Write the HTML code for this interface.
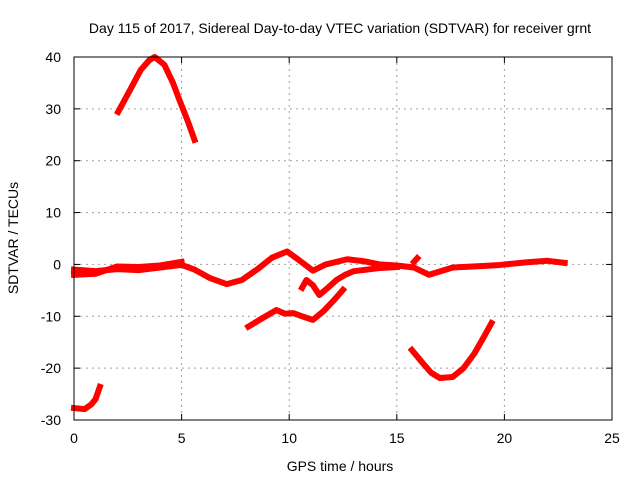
<!DOCTYPE html>
<html><head><meta charset="utf-8"><style>
body{margin:0;background:#fff}
svg{display:block;font-family:"Liberation Sans",sans-serif}
</style></head><body>
<svg id="chart" width="640" height="480">
<text x="340" y="33" text-anchor="middle" font-size="14">Day 115 of 2017, Sidereal Day-to-day VTEC variation (SDTVAR) for receiver grnt</text>
<text x="340" y="471" text-anchor="middle" font-size="14">GPS time / hours</text>
<text x="18" y="238" text-anchor="middle" font-size="14" transform="rotate(-90 18 238)">SDTVAR / TECUs</text>
<g id="grid"></g><g id="series"></g>
<rect x="74" y="57" width="538" height="363" fill="none" stroke="#000" stroke-width="1"/>
<g id="ticks"></g>
</svg>
<script>
const xTicks=[0,5,10,15,20,25];
const yTicks=[-30,-20,-10,0,10,20,30,40];
const arcTop=[[2.05,29.4],[2.6,33.6],[3.1,37.5],[3.5,39.4],[3.75,40],[4.2,38.5],[4.6,35],[4.9,31.7],[5.3,27.5],[5.6,24]];
const arcBottom=[[0,-27.7],[0.5,-27.9],[0.8,-27],[1,-26],[1.2,-23.6]];
const mainLine=[[0,-1],[1,-1.3],[2,-0.9],[3,-1.1],[4,-0.6],[5,-0.1],[5.6,-1],[6.3,-2.6],[7.1,-3.8],[7.8,-3],[8.5,-1],[9.2,1.3],[9.9,2.5],[10.4,1],[11.1,-1.2],[11.7,0],[12.7,1],[13.5,0.6],[14.2,0],[15,-0.2],[15.8,-0.6],[16.5,-2],[17.6,-0.6],[19,-0.3],[19.8,-0.1],[21,0.4],[22,0.7],[22.8,0.3]];
const mainBand=[[0,-2],[1,-1.8],[2,-0.4],[3,-0.5],[4,-0.2],[5,0.5]];
const branchLine=[[10.6,-4.5],[10.8,-3],[11.1,-4],[11.4,-5.9],[11.8,-4.5],[12.2,-3],[12.6,-2],[13,-1.3],[14.2,-0.7],[15,-0.5]];
const lowLine=[[8.1,-12],[8.7,-10.5],[9.4,-8.8],[9.8,-9.5],[10.2,-9.4],[10.6,-10],[11.1,-10.7],[11.6,-9],[12.1,-6.8],[12.5,-4.9]];
const vCurve=[[15.7,-16.5],[16.2,-19],[16.6,-20.9],[17,-21.9],[17.6,-21.7],[18.1,-20],[18.6,-17.2],[19,-14.3],[19.4,-11.3]];
const blip=[[15.8,0.5],[15.95,1.2]];
const X=v=>74+v*538/25, Y=v=>420-(v+30)*363/70;
const NS="http://www.w3.org/2000/svg";
const g=document.getElementById('grid'), t=document.getElementById('ticks'), s=document.getElementById('series');
function mk(tag,attrs,parent){const e=document.createElementNS(NS,tag);for(const k in attrs)e.setAttribute(k,attrs[k]);parent.appendChild(e);return e;}
xTicks.forEach(v=>{
 if(v>0&&v<25){const l=mk('line',{x1:X(v),x2:X(v),y1:57,y2:420,stroke:'#a0a0a0','stroke-dasharray':'2,4'},g);
 
 }
 mk('line',{x1:X(v),x2:X(v),y1:420,y2:414,stroke:'#000'},t);mk('line',{x1:X(v),x2:X(v),y1:57,y2:63,stroke:'#000'},t);
 const tx=mk('text',{x:X(v),y:443,'text-anchor':'middle','font-size':'14'},t);tx.textContent=v;
 
 
});
yTicks.forEach(v=>{
 if(v>-30&&v<40){const l=mk('line',{x1:74,x2:612,y1:Y(v),y2:Y(v),stroke:'#a0a0a0','stroke-dasharray':'2,4'},g);
 
 }
 mk('line',{x1:74,x2:80,y1:Y(v),y2:Y(v),stroke:'#000'},t);mk('line',{x1:612,x2:606,y1:Y(v),y2:Y(v),stroke:'#000'},t);
 const tx=mk('text',{x:61,y:Y(v)+5,'text-anchor':'end','font-size':'14'},t);tx.textContent=v;
 
 
});
const all=[['arc-top',arcTop],['arc-bottom',arcBottom],['main-line',mainLine],['main-band',mainBand],['branch-line',branchLine],['low-line',lowLine],['v-curve',vCurve],['blip',blip]];
all.forEach(([n,d])=>{
 const p=mk('polyline',{points:d.map(q=>X(q[0])+','+Y(q[1])).join(' '),fill:'none',stroke:'#ff0000','stroke-width':6,'stroke-linejoin':'round','stroke-linecap':'square'},s);
 
 
});
</script>
</body></html>
